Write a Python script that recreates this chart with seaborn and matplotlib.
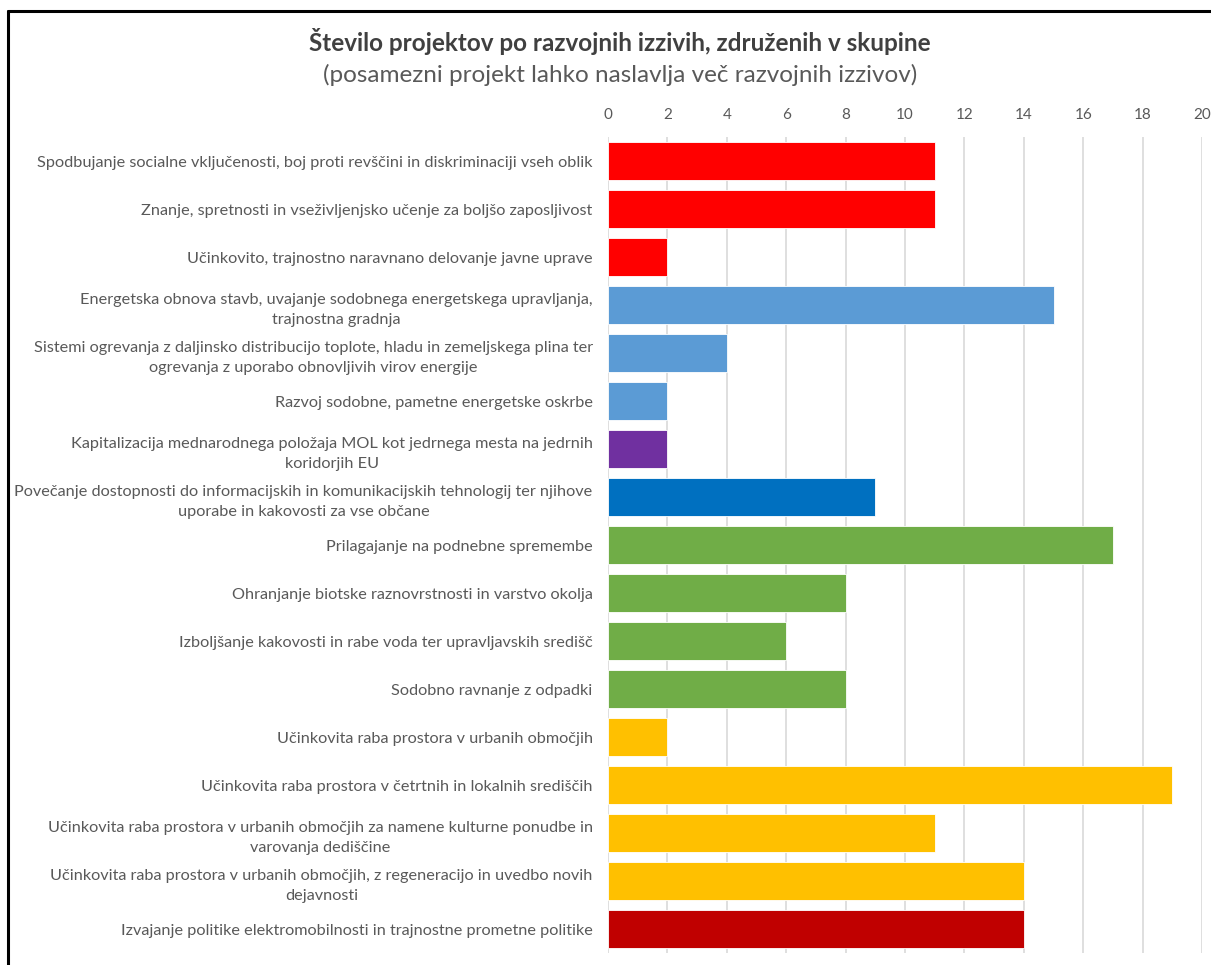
import matplotlib
matplotlib.use('Agg')
import matplotlib.pyplot as plt
import seaborn as sns
import pandas as pd
from matplotlib.lines import Line2D

izzivi = [
    'Spodbujanje socialne vključenosti, boj proti revščini in diskriminaciji vseh oblik',
    'Znanje, spretnosti in vseživljenjsko učenje za boljšo zaposljivost',
    'Učinkovito, trajnostno naravnano delovanje javne uprave',
    'Energetska obnova stavb, uvajanje sodobnega energetskega upravljanja,\ntrajnostna gradnja',
    'Sistemi ogrevanja z daljinsko distribucijo toplote, hladu in zemeljskega plina ter\nogrevanja z uporabo obnovljivih virov energije',
    'Razvoj sodobne, pametne energetske oskrbe',
    'Kapitalizacija mednarodnega položaja MOL kot jedrnega mesta na jedrnih\nkoridorjih EU',
    'Povečanje dostopnosti do informacijskih in komunikacijskih tehnologij ter njihove\nuporabe in kakovosti za vse občane',
    'Prilagajanje na podnebne spremembe',
    'Ohranjanje biotske raznovrstnosti in varstvo okolja',
    'Izboljšanje kakovosti in rabe voda ter upravljavskih središč',
    'Sodobno ravnanje z odpadki',
    'Učinkovita raba prostora v urbanih območjih',
    'Učinkovita raba prostora v četrtnih in lokalnih središčih',
    'Učinkovita raba prostora v urbanih območjih za namene kulturne ponudbe in\nvarovanja dediščine',
    'Učinkovita raba prostora v urbanih območjih, z regeneracijo in uvedbo novih\ndejavnosti',
    'Izvajanje politike elektromobilnosti in trajnostne prometne politike',
]
projekti = [11, 11, 2, 15, 4, 2, 2, 9, 17, 8, 6, 8, 2, 19, 11, 14, 14]
barve = ['#FF0000', '#FF0000', '#FF0000', '#5B9BD5', '#5B9BD5', '#5B9BD5', '#7030A0',
         '#0070C0', '#70AD47', '#70AD47', '#70AD47', '#70AD47', '#FFC000', '#FFC000',
         '#FFC000', '#FFC000', '#C00000']

df = pd.DataFrame({'izziv': izzivi, 'projekti': projekti})

sns.set_style('white')
plt.rcParams['font.family'] = ['Lato', 'DejaVu Sans']

fig = plt.figure(figsize=(12.11, 9.65), dpi=100)
ax = fig.add_axes([0.502, 0.0124, 0.4906, 0.8456])

sns.barplot(data=df, x='projekti', y='izziv', hue='izziv', palette=barve,
            saturation=1, legend=False, width=0.8, edgecolor='#FFFFFF',
            linewidth=0.6, orient='h', ax=ax, zorder=3)

ax.set_xlim(0, 20)
ax.set_xticks(range(0, 21, 2))
ax.xaxis.tick_top()
ax.grid(axis='x', color='#D9D9D9', linewidth=1.2, zorder=0)
ax.set_axisbelow(True)
for s in ax.spines.values():
    s.set_visible(False)
ax.tick_params(axis='x', length=0, pad=11, labelsize=11, labelcolor='#595959')
ax.tick_params(axis='y', length=0, pad=11, labelsize=11.7, labelcolor='#595959')
for t in ax.get_yticklabels():
    t.set_multialignment('center')
    t.set_linespacing(1.55)
ax.set_xlabel('')
ax.set_ylabel('')

fig.text(0.512, 0.957, 'Število projektov po razvojnih izzivih, združenih v skupine',
         ha='center', va='center', fontsize=17.5, fontweight='bold', color='#404040')
fig.text(0.512, 0.922, '(posamezni projekt lahko naslavlja več razvojnih izzivov)',
         ha='center', va='center', fontsize=17.5, color='#595959')

# okvir (levi in zgornji rob)
fig.add_artist(Line2D([0.0066, 0.0066], [0, 0.989], color='black', linewidth=2.2,
                      transform=fig.transFigure))
fig.add_artist(Line2D([0.0066, 1.0], [0.989, 0.989], color='black', linewidth=2.2,
                      transform=fig.transFigure))

fig.savefig('out.png', dpi=100, facecolor='white')
